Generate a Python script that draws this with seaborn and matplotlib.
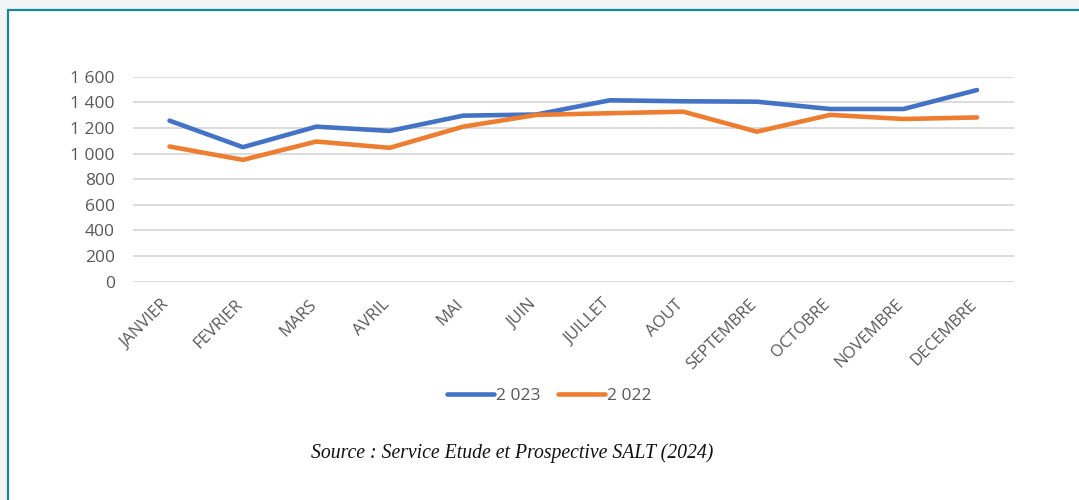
import matplotlib
matplotlib.use("Agg")
import matplotlib.pyplot as plt
import matplotlib.transforms as mtransforms
from matplotlib.patches import Rectangle
from matplotlib.lines import Line2D
from matplotlib.ticker import FuncFormatter, MultipleLocator
import seaborn as sns
import pandas as pd

months = ["JANVIER", "FEVRIER", "MARS", "AVRIL", "MAI", "JUIN", "JUILLET",
          "AOUT", "SEPTEMBRE", "OCTOBRE", "NOVEMBRE", "DECEMBRE"]
values_2023 = [1257, 1050, 1210, 1177, 1296, 1305, 1416, 1408, 1405, 1348, 1348, 1496]
values_2022 = [1055, 951, 1094, 1045, 1210, 1302, 1315, 1327, 1171, 1302, 1270, 1282]
series_names = ["2 023", "2 022"]
colors = ["#4472C4", "#ED7D31"]
source_text = "Source : Service Etude et Prospective SALT (2024)"

df = pd.DataFrame({
    "mois": months * 2,
    "valeur": values_2023 + values_2022,
    "annee": [series_names[0]] * len(months) + [series_names[1]] * len(months),
})

sns.set_theme(style="white")
plt.rcParams["font.family"] = ["Open Sans", "DejaVu Sans"]

W, H = 1079, 500
fig = plt.figure(figsize=(W / 100, H / 100), dpi=100)
fig.patch.set_facecolor("#f3f4f5")

# white card with teal border (left and top)
fig.patches.append(Rectangle((8 / W, 0), 1 - 8 / W, (H - 10) / H,
                             transform=fig.transFigure, facecolor="white",
                             edgecolor="none", zorder=-10))
fig.lines.append(Line2D([8 / W, 8 / W], [0, (H - 10) / H], transform=fig.transFigure,
                        color="#17879a", lw=1.6, zorder=-5))
fig.lines.append(Line2D([8 / W, 1], [(H - 10) / H, (H - 10) / H], transform=fig.transFigure,
                        color="#17879a", lw=1.6, zorder=-5))

left, right = 132.8, 1013.7
top, bottom = 76.7, 281.7
ax = fig.add_axes([left / W, (H - bottom) / H, (right - left) / W, (bottom - top) / H])
ax.set_facecolor("none")
ax.set_zorder(2)

sns.lineplot(data=df, x="mois", y="valeur", hue="annee", palette=colors,
             linewidth=3.3, sort=False, ax=ax, legend=False)
for ln in ax.lines:
    ln.set_solid_capstyle("round")
    ln.set_solid_joinstyle("round")
    ln.set_zorder(3)

ax.set_xlim(-0.5, len(months) - 0.5)
ax.set_ylim(0, 1600)
ax.yaxis.set_major_locator(MultipleLocator(200))
ax.yaxis.set_major_formatter(FuncFormatter(lambda v, p: f"{int(v):,}".replace(",", " ")))
ax.grid(axis="y", color="#d9d9d9", lw=1.3)
ax.grid(axis="x", visible=False)
ax.set_axisbelow(True)
for s in ax.spines.values():
    s.set_visible(False)
ax.set_xlabel("")
ax.set_ylabel("")
ax.tick_params(axis="y", length=0, pad=13, labelsize=12.5, labelcolor="#595959")
ax.tick_params(axis="x", length=0, pad=2, labelsize=12, labelcolor="#595959")
ax.set_xticks(range(len(months)))
ax.set_xticklabels(months, rotation=45, ha="right", va="top", rotation_mode="anchor")
offset = mtransforms.ScaledTranslation(-0.08, -0.12, fig.dpi_scale_trans)
for lbl in ax.get_xticklabels():
    lbl.set_transform(lbl.get_transform() + offset)

handles = [Line2D([], [], color=c, lw=3.3, solid_capstyle="round") for c in colors]
leg = fig.legend(handles, series_names, loc="center", bbox_to_anchor=(549 / W, (H - 396) / H),
                 ncol=2, frameon=False, handlelength=2.7, handletextpad=0.12,
                 columnspacing=1.0, fontsize=12.5)
for t in leg.get_texts():
    t.set_color("#595959")

fig.text(512 / W, (H - 453) / H, source_text, ha="center", va="center",
         family=["Liberation Serif", "DejaVu Serif"], style="italic",
         fontsize=14.2, color="#111111")

fig.savefig("out.png", dpi=100, facecolor=fig.get_facecolor())
